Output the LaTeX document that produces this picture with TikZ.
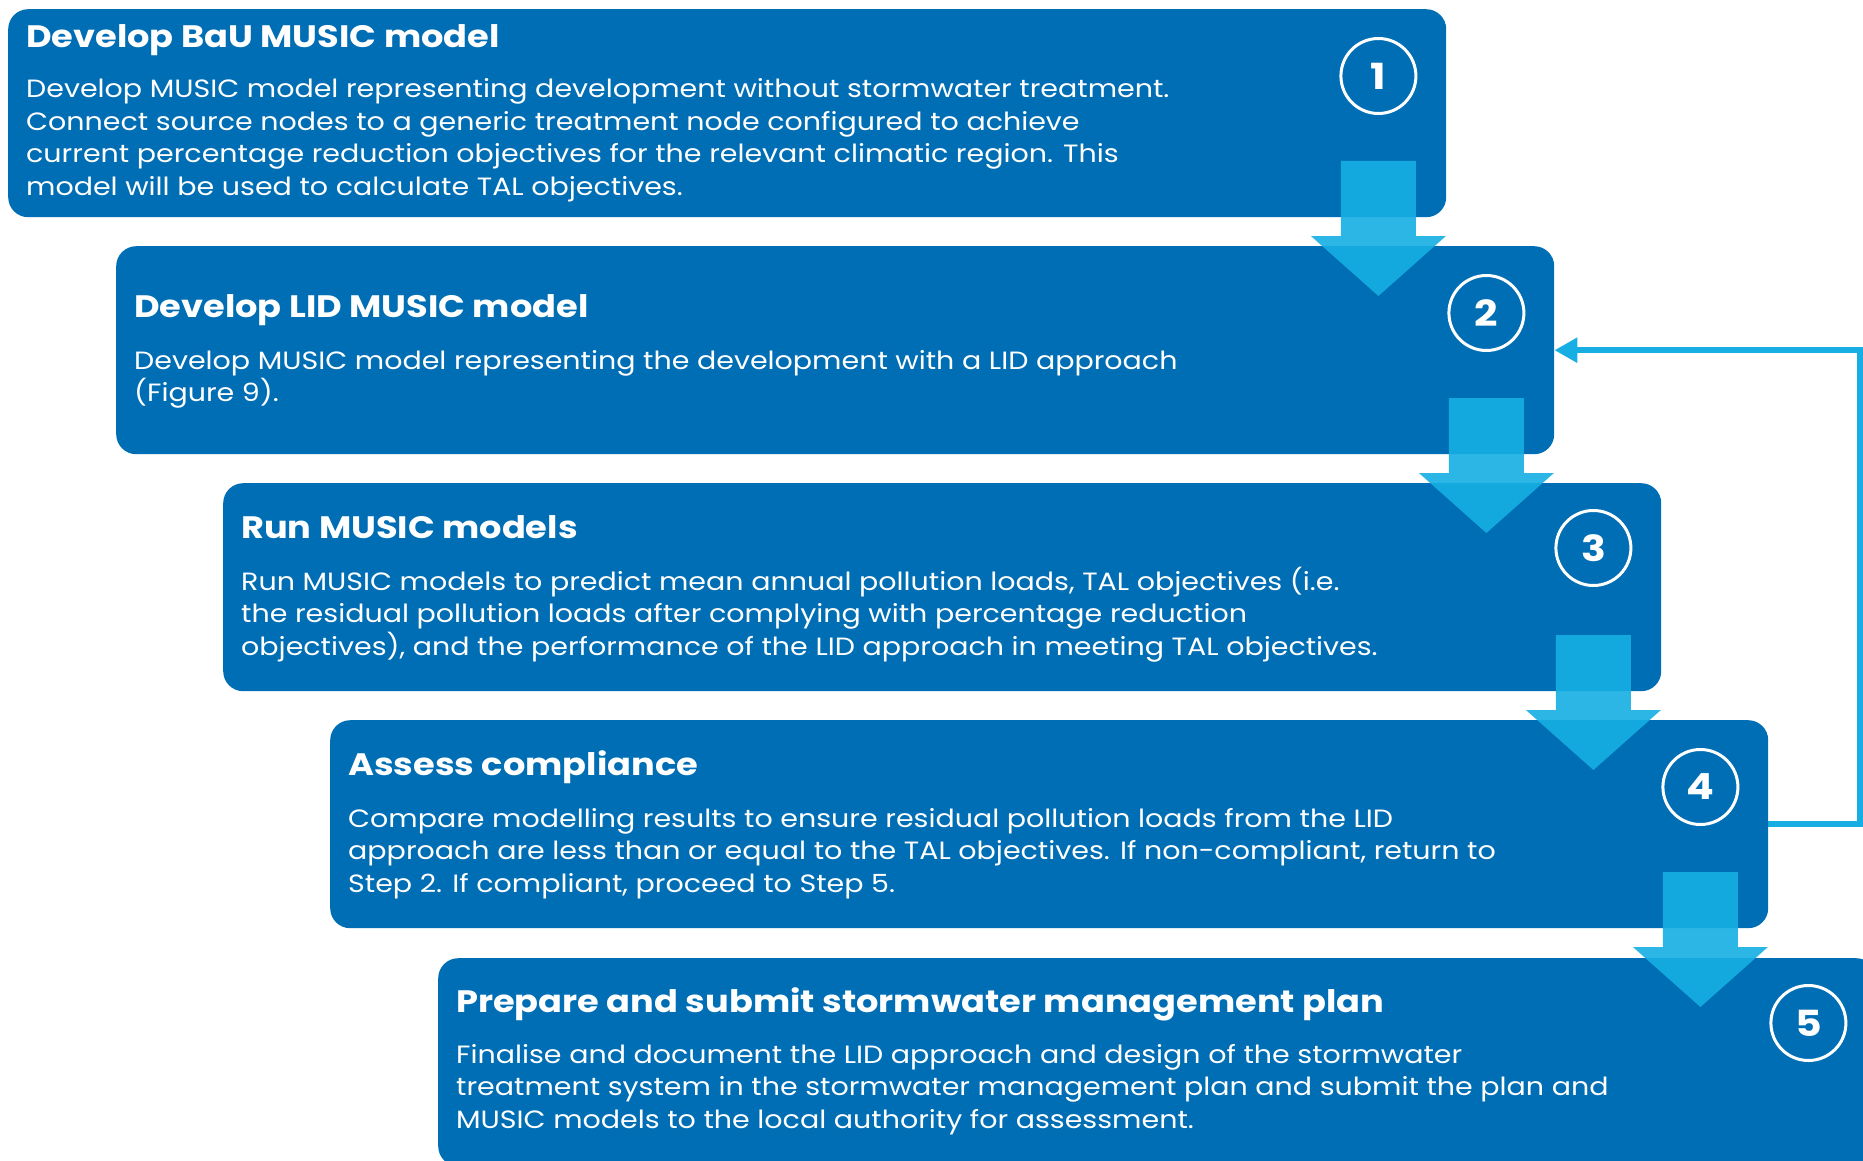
\documentclass[tikz,border=0pt]{standalone}
\usepackage{fontspec}
\setmainfont{Poppins}[FakeStretch=1.14]
\newfontfamily\headfont{Poppins}[FakeStretch=1.135]
\usetikzlibrary{arrows.meta,calc}
\definecolor{stepblue}{HTML}{006EB4}
\definecolor{flowblue}{HTML}{17AFE3}
\newcommand{\bodylines}[1]{\parbox[t]{1400pt}{\raggedright\fontsize{25}{32.5}\selectfont #1}}
\begin{document}
\begin{tikzpicture}[x=1pt,y=-1pt,
  stepbox/.style={fill=stepblue, rounded corners=20pt, minimum width=1438pt,
    minimum height=208pt, anchor=north west, inner sep=0pt},
  numring/.style={circle, draw=white, line width=3pt, minimum size=75pt,
    inner sep=0pt, text=white, font=\fontsize{36}{36}\selectfont\bfseries},
  steptitle/.style={anchor=base west, inner sep=0pt, text=white,
    font=\headfont\fontsize{31}{31}\selectfont\bfseries},
  stepbody/.style={anchor=base west, inner sep=0pt, text=white},
  flow/.style={fill=flowblue, fill opacity=0.91},
  loopline/.style={draw=flowblue, line width=6pt, -{Triangle[length=23pt,width=24pt]}}
]
\useasboundingbox (0,0) rectangle (1863,1161);
\clip (0,0) rectangle (1863,1161);

% step boxes
\node[stepbox] (b1) at (8,9) {};
\node[stepbox] (b2) at (116,246) {};
\node[stepbox] (b3) at (223,483) {};
\node[stepbox] (b4) at (330,720) {};
\node[stepbox] (b5) at (438,958) {};

% numbered rings
\node[numring] (c1) at ($(b1.north east)+(-68,67)$) {1};
\node[numring] (c2) at ($(b2.north east)+(-68,67)$) {2};
\node[numring] (c3) at ($(b3.north east)+(-68,65)$) {3};
\node[numring] (c4) at ($(b4.north east)+(-68,67)$) {4};
\node[numring] (c5) at ($(b5.north east)+(-68,65)$) {5};

% titles and descriptions
\node[steptitle] (t1) at ($(b1.north west)+(18,39)$) {Develop BaU MUSIC model};
\node[stepbody] (d1) at ($(b1.north west)+(18,89)$) {\bodylines{%
Develop MUSIC model representing development without stormwater treatment.\\
Connect source nodes to a generic treatment node configured to achieve\\
current percentage reduction objectives for the relevant climatic region. This\\
model will be used to calculate TAL objectives.}};

\node[steptitle] (t2) at ($(b2.north west)+(18,71)$) {Develop LID MUSIC model};
\node[stepbody] (d2) at ($(b2.north west)+(18,123)$) {\bodylines{%
Develop MUSIC model representing the development with a LID approach\\
(Figure 9).}};

\node[steptitle] (t3) at ($(b3.north west)+(18,55)$) {Run MUSIC models};
\node[stepbody] (d3) at ($(b3.north west)+(18,107)$) {\bodylines{%
Run MUSIC models to predict mean annual pollution loads, TAL objectives (i.e.\\
the residual pollution loads after complying with percentage reduction\\
objectives), and the performance of the LID approach in meeting TAL objectives.}};

\node[steptitle] (t4) at ($(b4.north west)+(18,55)$) {Assess compliance};
\node[stepbody] (d4) at ($(b4.north west)+(18,107)$) {\bodylines{%
Compare modelling results to ensure residual pollution loads from the LID\\
approach are less than or equal to the TAL objectives. If non-compliant, return to\\
Step 2. If compliant, proceed to Step 5.}};

\node[steptitle] (t5) at ($(b5.north west)+(18,54)$) {Prepare and submit stormwater management plan};
\node[stepbody] (d5) at ($(b5.north west)+(18,105)$) {\bodylines{%
Finalise and document the LID approach and design of the stormwater\\
treatment system in the stormwater management plan and submit the plan and\\
MUSIC models to the local authority for assessment.}};

% block arrows from one step to the next
\foreach \c/\b in {c1/b1,c2/b2,c3/b3,c4/b4}{
  \fill[flow] ($(\c |- \b.north)+(-37.5,152)$) -- ++(75,0) -- ++(0,75)
    -- ++(30,0) -- ++(-67.5,60) -- ++(-67.5,-60) -- ++(30,0) -- cycle;
}

% return path from step 4 to step 2
\coordinate (loopx) at (1860,0);
\draw[loopline] (b4.east) -- (b4.east -| loopx) -- (b2.east -| loopx) -- (b2.east);
\end{tikzpicture}
\end{document}
